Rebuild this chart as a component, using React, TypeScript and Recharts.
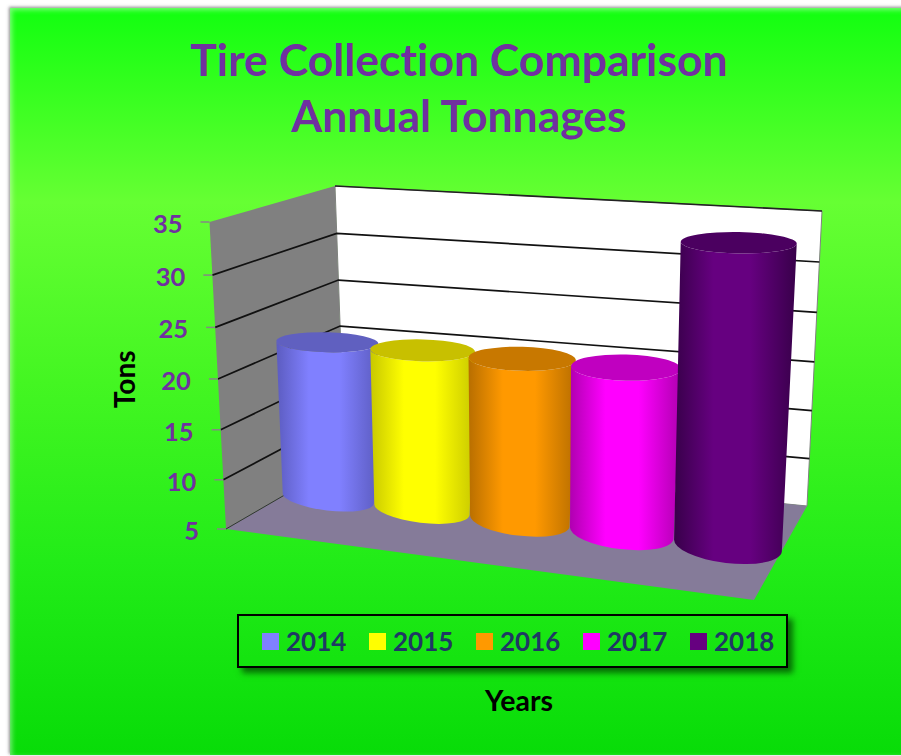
import { BarChart, Bar, XAxis, YAxis, CartesianGrid, Legend } from 'recharts';

const years = ['2014', '2015', '2016', '2017', '2018'];
const tons = [21.3, 21.3, 21.3, 21.3, 33.7];
const seriesColors = ['#8080FF', '#FFFF00', '#FF9900', '#FF00FF', '#660080'];
const topColors = ['#6060C0', '#C8C000', '#C87800', '#C000C0', '#4B0060'];
const edgeColors = ['#5C5CC0', '#C8C800', '#B86E00', '#B000B0', '#38004A'];
const yTicks = [5, 10, 15, 20, 25, 30, 35];

const row: Record<string, string | number> = { category: 'Tons' };
years.forEach((y, i) => {
    row[y] = tons[i];
});

const W = 901;
const H = 756;
const plot = { left: 226, top: 222, right: 754, bottom: 529 };

type Pt = { x: number; y: number };
const lerp = (a: Pt, b: Pt, t: number): Pt => ({ x: a.x + (b.x - a.x) * t, y: a.y + (b.y - a.y) * t });

// fake 3D box: front/back, bottom/top corners on screen
const FBL = { x: 226, y: 529 };
const FBR = { x: 754, y: 600 };
const FTL = { x: 209.5, y: 222 };
const FTR = { x: 777, y: 255 };
const BBL = { x: 345, y: 460 };
const BBR = { x: 807, y: 506 };
const BTL = { x: 335, y: 186 };
const BTR = { x: 822, y: 211 };

const project = (u: number, d: number, v: number): Pt => {
    const bottom = lerp(lerp(FBL, FBR, u), lerp(BBL, BBR, u), d);
    const top = lerp(lerp(FTL, FTR, u), lerp(BTL, BTR, u), d);
    return lerp(bottom, top, v);
};

const warpU = (u: number) => u - 0.104 * u * (1 - u);
const warpV = (v: number) => v - 0.045 * v * (1 - v);
const pxToV = (y: number) => (plot.bottom - y) / (plot.bottom - plot.top);
const pts = (list: Pt[]) => list.map((p) => `${p.x},${p.y}`).join(' ');

function Cylinder(props: any) {
    const { x, y, width, fill, seriesIndex } = props;
    const plotW = plot.right - plot.left;
    const u0 = warpU((x - plot.left) / plotW);
    const u1 = warpU((x + width - plot.left) / plotW);
    const uc = (u0 + u1) / 2;
    const v = warpV(pxToV(y));
    const d = 0.5;

    const bl = project(u0, d, 0);
    const br = project(u1, d, 0);
    const rawL = project(u0, d, v);
    const rawR = project(u1, d, v);
    const tc = lerp(rawL, rawR, 0.5);
    const shift = v * (10 - 16 * uc);
    const grow = (v * (16 - 16 * uc)) / 2;
    // top ellipses sit almost flat, the bottom ones follow the floor
    const dx = rawR.x - rawL.x;
    const dy = (rawR.y - rawL.y) * 0.3;
    const len = Math.hypot(dx, dy);
    const half = (rawR.x - rawL.x) / 2 + grow;
    const tl = { x: tc.x + shift - (dx / len) * half, y: tc.y - (dy / len) * half };
    const tr = { x: tc.x + shift + (dx / len) * half, y: tc.y + (dy / len) * half };

    const ryBottom = 11.5 + 7 * uc;
    const ryTop = (12.5 + 7 * uc) * (1 - 0.45 * v);
    const rxBottom = Math.hypot(br.x - bl.x, br.y - bl.y) / 2;
    const angBottom = (Math.atan2(br.y - bl.y, br.x - bl.x) * 180) / Math.PI;
    const angTop = (Math.atan2(dy, dx) * 180) / Math.PI;
    const id = `cyl-${seriesIndex}`;
    const edge = edgeColors[seriesIndex];

    const body =
        `M${tl.x},${tl.y} L${bl.x},${bl.y} ` +
        `A${rxBottom},${ryBottom} ${angBottom} 0 0 ${br.x},${br.y} ` +
        `L${tr.x},${tr.y} A${half},${ryTop} ${angTop} 0 1 ${tl.x},${tl.y} Z`;

    return (
        <g transform={`translate(${-3 + 2.5 * uc} -1.5)`}>
            <defs>
                <linearGradient id={id} x1="0" y1="0" x2="1" y2="0">
                    <stop offset="0%" stopColor={edge} />
                    <stop offset="32%" stopColor={fill} />
                    <stop offset="62%" stopColor={fill} />
                    <stop offset="100%" stopColor={edge} />
                </linearGradient>
            </defs>
            <path d={body} fill={`url(#${id})`} />
            <ellipse
                cx={tc.x + shift}
                cy={tc.y}
                rx={half}
                ry={ryTop}
                fill={topColors[seriesIndex]}
                transform={`rotate(${angTop} ${tc.x + shift} ${tc.y})`}
            />
        </g>
    );
}

function GridLine(props: any) {
    const v = warpV(pxToV(props.y1));
    if (v > 0.995) {
        return (
            <polyline
                points={pts([project(0, 1, 1), project(1, 1, 1)])}
                fill="none"
                stroke="#222"
                strokeWidth={1.7}
            />
        );
    }
    if (v < 0.005) {
        return (
            <polyline
                points={pts([project(0, 0, 0), project(0, 1, 0)])}
                fill="none"
                stroke="#333"
                strokeWidth={1}
            />
        );
    }
    return (
        <polyline
            points={pts([project(0, 0, v), project(0, 1, v), project(1, 1, v)])}
            fill="none"
            stroke="#111"
            strokeWidth={1.7}
        />
    );
}

function YTick(props: any) {
    const { y, payload } = props;
    const v = warpV(pxToV(y));
    const p = project(0, 0, v);
    return (
        <g>
            <line x1={p.x - 9} y1={p.y} x2={p.x} y2={p.y} stroke="#868686" strokeWidth={1.5} />
            <text
                x={p.x - 27}
                y={p.y + 1}
                textAnchor="end"
                dominantBaseline="central"
                fill="#7030A0"
                fontFamily="Lato"
                fontWeight={700}
                fontSize={25.5}
            >
                {payload.value}
            </text>
        </g>
    );
}

function Walls() {
    return (
        <svg width={W} height={H} style={{ position: 'absolute', left: 0, top: 0 }}>
            <polygon points={pts([FBL, FTL, BTL, BBL])} fill="#808080" />
            <polygon points={pts([BBL, BTL, BTR, BBR])} fill="#FFFFFF" stroke="#808080" strokeWidth={1} />
            <polygon points={pts([FBL, BBL, BBR, FBR])} fill="#857B99" />
        </svg>
    );
}

function LegendBox(props: any) {
    return (
        <div
            style={{
                boxSizing: 'border-box',
                width: 551,
                height: 54,
                border: '2.5px solid #000',
                boxShadow: '5px 5px 6px rgba(0,70,0,0.75)',
                display: 'flex',
                alignItems: 'center',
                paddingLeft: 23,
            }}
        >
            {props.payload.map((item: any) => (
                <div key={item.value} style={{ display: 'flex', alignItems: 'center', width: 107, flexShrink: 0 }}>
                    <span style={{ width: 17, height: 17, background: item.color, marginRight: 7 }} />
                    <span
                        style={{
                            fontFamily: 'Lato',
                            fontWeight: 700,
                            fontSize: 26,
                            color: '#1F3864',
                            lineHeight: 1,
                        }}
                    >
                        {item.value}
                    </span>
                </div>
            ))}
        </div>
    );
}

export default function App() {
    return (
        <div style={{ position: 'absolute', left: 0, top: 0, width: W, height: H, overflow: 'hidden', background: '#fff' }}>
            <div
                style={{
                    position: 'absolute',
                    left: 10,
                    top: 8,
                    width: W + 10,
                    height: H - 9,
                    background:
                        'linear-gradient(180deg, #12FF10 0%, #66FF33 26%, #44F622 50%, #22EC18 74%, #08DC08 100%)',
                    boxShadow: '-1px -1px 3px rgba(90,90,90,0.7), inset 2px 2px 5px rgba(255,255,255,0.45)',
                }}
            />
            <div
                style={{
                    position: 'absolute',
                    left: 0,
                    top: 31,
                    width: 918,
                    textAlign: 'center',
                    fontFamily: 'Lato',
                    fontWeight: 700,
                    fontSize: 44.5,
                    lineHeight: '56px',
                    color: '#7030A0',
                    fontVariantLigatures: 'none',
                }}
            >
                Tire Collection Comparison
                <br />
                Annual Tonnages
            </div>
            <Walls />
            <div style={{ position: 'absolute', left: 0, top: 0 }}>
                <BarChart
                    width={W}
                    height={H}
                    data={[row]}
                    margin={{ left: plot.left - 1, top: plot.top, right: W - plot.right, bottom: H - plot.bottom - 1 }}
                    barCategoryGap={0}
                    barGap={0}
                >
                    <CartesianGrid vertical={false} horizontal={(p: any) => <GridLine key={p.key} {...p} />} stroke="#111" />
                    <XAxis
                        dataKey="category"
                        height={1}
                        tick={false}
                        axisLine={false}
                        tickLine={false}
                        label={{
                            value: 'Years',
                            position: 'bottom',
                            offset: 161,
                            dx: 29,
                            fill: '#000',
                            fontFamily: 'Lato',
                            fontWeight: 700,
                            fontSize: 28.5,
                        }}
                    />
                    <YAxis
                        width={1}
                        domain={[5, 35]}
                        ticks={yTicks}
                        axisLine={false}
                        tickLine={false}
                        tick={<YTick />}
                        interval={0}
                        label={{
                            value: 'Tons',
                            angle: -90,
                            position: 'left',
                            offset: 100,
                            dy: -25,
                            fill: '#000',
                            fontFamily: 'Lato',
                            fontWeight: 700,
                            fontSize: 28,
                        }}
                    />
                    <Legend
                        layout="horizontal"
                        verticalAlign="middle"
                        align="center"
                        content={<LegendBox />}
                        wrapperStyle={{ left: 237, top: 614, width: 551, height: 54 }}
                    />
                    {years.map((y, i) => (
                        <Bar
                            key={y}
                            dataKey={y}
                            name={y}
                            fill={seriesColors[i]}
                            isAnimationActive={false}
                            shape={(p: any) => <Cylinder {...p} seriesIndex={i} />}
                        />
                    ))}
                </BarChart>
            </div>
        </div>
    );
}
